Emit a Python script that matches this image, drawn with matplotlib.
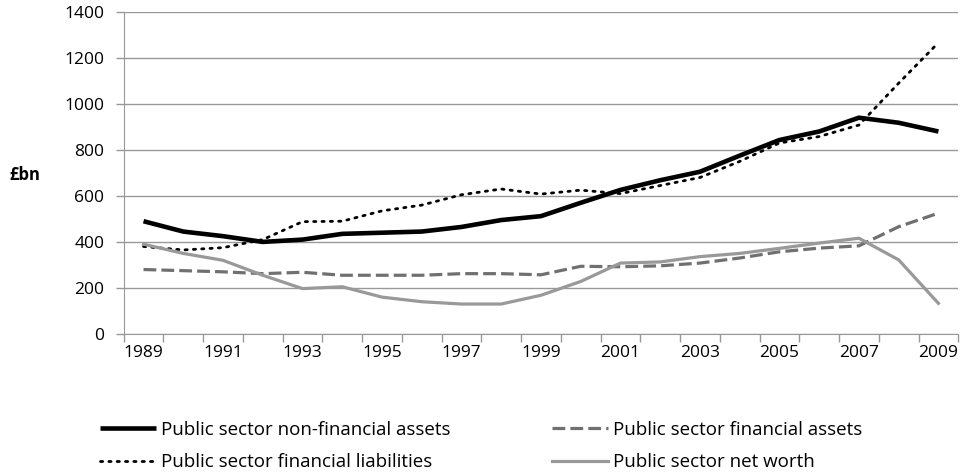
import numpy as np
import matplotlib.pyplot as plt

years = list(range(1989, 2010))
non_fin_assets = [490, 445, 425, 400, 410, 435, 440, 445, 465, 495, 512,
                  570, 626, 668, 705, 775, 843, 880, 940, 918, 880]
fin_liabilities = [380, 365, 375, 410, 488, 490, 535, 560, 605, 630, 608,
                   625, 610, 645, 680, 750, 830, 858, 908, 1090, 1266]
fin_assets = [280, 275, 270, 262, 268, 255, 255, 255, 262, 262, 257,
              294, 292, 296, 308, 330, 357, 373, 383, 466, 525]
net_worth = [390, 350, 320, 255, 197, 205, 160, 140, 130, 130, 168,
             228, 308, 313, 336, 350, 372, 395, 416, 322, 133]
tick_years = [str(y) if (y - 1989) % 2 == 0 else '' for y in years]

plt.rcParams['font.family'] = ['Open Sans', 'DejaVu Sans']

fig = plt.figure(figsize=(9.66, 4.75), dpi=100)
ax = fig.add_axes([0.128, 0.297, 0.864, 0.678])

x = np.arange(len(years))
ax.plot(x, non_fin_assets, color='black', lw=3.3, solid_capstyle='butt',
        label='Public sector non-financial assets')
ax.plot(x, fin_assets, color='#707070', lw=2.3, dashes=(4.0, 1.6),
        label='Public sector financial assets')
ax.plot(x, fin_liabilities, color='black', lw=2.0, linestyle=(0, (0.8, 2.2)),
        dash_capstyle='round', label='Public sector financial liabilities')
ax.plot(x, net_worth, color='#999999', lw=2.3,
        label='Public sector net worth')

ax.set_xlim(-0.5, len(years) - 0.5)
ax.set_ylim(0, 1400)
ax.set_yticks(range(0, 1401, 200))
ax.set_xticks(x)
ax.set_xticklabels(tick_years)
ax.set_xticks(np.arange(-0.5, len(years), 1), minor=True)
ax.tick_params(axis='x', which='major', length=0, pad=8, labelsize=12.5)
ax.tick_params(axis='x', which='minor', length=6, color='#999999', width=1)
ax.tick_params(axis='y', length=6, color='#999999', width=1, labelsize=12.5, pad=8)
ax.yaxis.grid(True, color='#999999', lw=1)
ax.set_axisbelow(True)
for s in ['top', 'right']:
    ax.spines[s].set_visible(False)
for s in ['left', 'bottom']:
    ax.spines[s].set_color('#999999')

fig.text(0.010, 0.632, '£bn', fontsize=12, fontweight='bold', va='center')

h, l = ax.get_legend_handles_labels()
order = [0, 2, 1, 3]
fig.legend([h[i] for i in order], [l[i] for i in order], ncol=2,
           loc='upper left', bbox_to_anchor=(0.1035, 0.114), frameon=False,
           fontsize=13.5, handlelength=3.0, handletextpad=0.27,
           columnspacing=5.4, labelspacing=0.78, borderpad=0,
           borderaxespad=0)

fig.savefig('out.png', dpi=100)
